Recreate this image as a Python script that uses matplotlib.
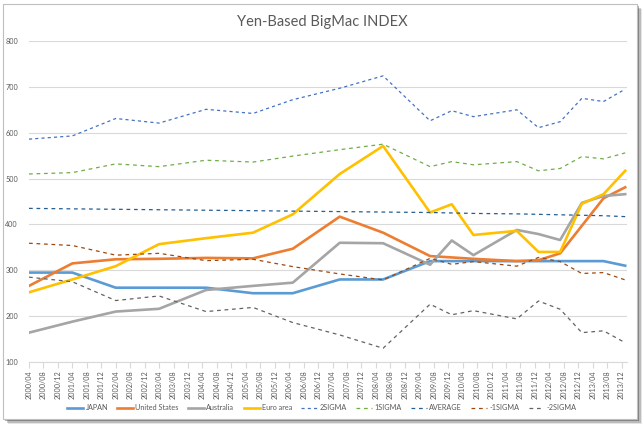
import matplotlib.pyplot as plt
from matplotlib.patches import Rectangle

# survey dates (year/month) and yen-based prices
dates = ["2000/04", "2001/04", "2002/04", "2003/04", "2004/05", "2005/06",
         "2006/05", "2007/06", "2008/06", "2009/07", "2010/01", "2010/07",
         "2011/07", "2012/01", "2012/07", "2013/01", "2013/07", "2014/01"]

japan = [295, 295, 262, 262, 262, 250, 250, 280, 280, 320, 320, 320, 320, 320, 320, 320, 320, 310]
united_states = [266, 315, 324, 325, 327, 326, 347, 417, 382, 331, 328, 325, 320, 322, 337, 397, 457, 481]
australia = [164, 188, 210, 216, 257, 266, 273, 360, 359, 312, 365, 333, 388, 379, 366, 447, 462, 466]
euro_area = [252, 280, 309, 357, 370, 382, 422, 510, 571, 426, 444, 377, 386, 340, 340, 445, 466, 517]

sigma2 = [586, 593, 631, 621, 651, 642, 672, 697, 724, 626, 648, 635, 650, 611, 624, 675, 668, 695]
sigma1 = [510, 513, 532, 526, 540, 536, 549, 563, 575, 526, 537, 530, 537, 517, 522, 548, 543, 556]
average = [435, 434, 433, 432, 431, 430, 429, 428, 427, 426, 425, 424, 423, 422, 421, 420, 419, 417]
msigma1 = [359, 354, 333, 337, 321, 324, 308, 292, 279, 326, 313, 319, 309, 328, 319, 293, 295, 279]
msigma2 = [285, 275, 234, 244, 210, 219, 186, 159, 130, 226, 203, 212, 194, 233, 215, 164, 168, 142]

# axis labels every 4 months
tick_labels = ["%d/%02d" % (2000 + (3 + i) // 12, (3 + i) % 12 + 1) for i in range(0, 165, 4)]


def month_index(s):
    y, m = s.split("/")
    return (int(y) - 2000) * 12 + int(m) - 4


x = [month_index(d) for d in dates]
xt = [month_index(t) for t in tick_labels]

plt.rcParams['font.family'] = ['Lato', 'DejaVu Sans']
fig = plt.figure(figsize=(6.44, 4.28), dpi=100)

# frame with a soft shadow
for k, a in enumerate([0.10, 0.18, 0.30, 0.45]):
    off = (4 - k) * 1.2
    fig.patches.append(Rectangle((3 / 644 + off / 644, 9 / 428 - off / 428), 634 / 644, 415 / 428,
                                 transform=fig.transFigure, facecolor='#000000', alpha=a,
                                 edgecolor='none', zorder=0))
fig.patches.append(Rectangle((3 / 644, 9 / 428), 634 / 644, 415 / 428, transform=fig.transFigure,
                             facecolor='white', edgecolor='#bfbfbf', linewidth=0.8, zorder=1))

ax = fig.add_axes([29 / 644, 1 - 362 / 428, 598 / 644, 321 / 428])
ax.set_facecolor('none')
ax.set_zorder(5)

ax.plot(x, japan, color='#5B9BD5', lw=1.9, label='JAPAN')
ax.plot(x, united_states, color='#ED7D31', lw=1.9, label='United States')
ax.plot(x, australia, color='#A5A5A5', lw=1.9, label='Australia')
ax.plot(x, euro_area, color='#FFC000', lw=1.9, label='Euro area')
ax.plot(x, sigma2, color='#4472C4', lw=0.9, dashes=(2.5, 2.5), label='2SIGMA')
ax.plot(x, sigma1, color='#70AD47', lw=0.9, dashes=(3, 3), label='1SIGMA')
ax.plot(x, average, color='#255E91', lw=0.9, dashes=(3, 3), label='AVERAGE')
ax.plot(x, msigma1, color='#9E480E', lw=0.9, dashes=(3, 3), label='-1SIGMA')
ax.plot(x, msigma2, color='#636363', lw=0.9, dashes=(3, 3), label='-2SIGMA')

ax.set_xlim(0, 165.5)
ax.set_ylim(100, 800)
ax.set_yticks(range(100, 801, 100))
ax.set_xticks(xt)
ax.set_xticklabels(tick_labels, rotation=90)
ax.grid(axis='y', color='#d9d9d9', lw=0.8)
ax.set_axisbelow(True)
for s in ['top', 'right', 'left']:
    ax.spines[s].set_visible(False)
ax.spines['bottom'].set_color('#d9d9d9')
ax.tick_params(axis='y', length=0, pad=8, labelsize=5.2, labelcolor='#595959')
ax.tick_params(axis='x', length=4, color='#d9d9d9', pad=2, labelsize=5.2, labelcolor='#595959')

fig.text(0.5, 1 - 22 / 428, 'Yen-Based BigMac INDEX', ha='center', va='center',
         fontsize=10.5, color='#595959')

leg = fig.legend(loc='center', bbox_to_anchor=(0.5, 1 - 408 / 428), ncol=9, frameon=False,
                 fontsize=5.2, labelcolor='#595959', handlelength=2.2, handletextpad=0.3,
                 columnspacing=1.3)
leg.set_zorder(6)

plt.savefig('out.png', dpi=100)
